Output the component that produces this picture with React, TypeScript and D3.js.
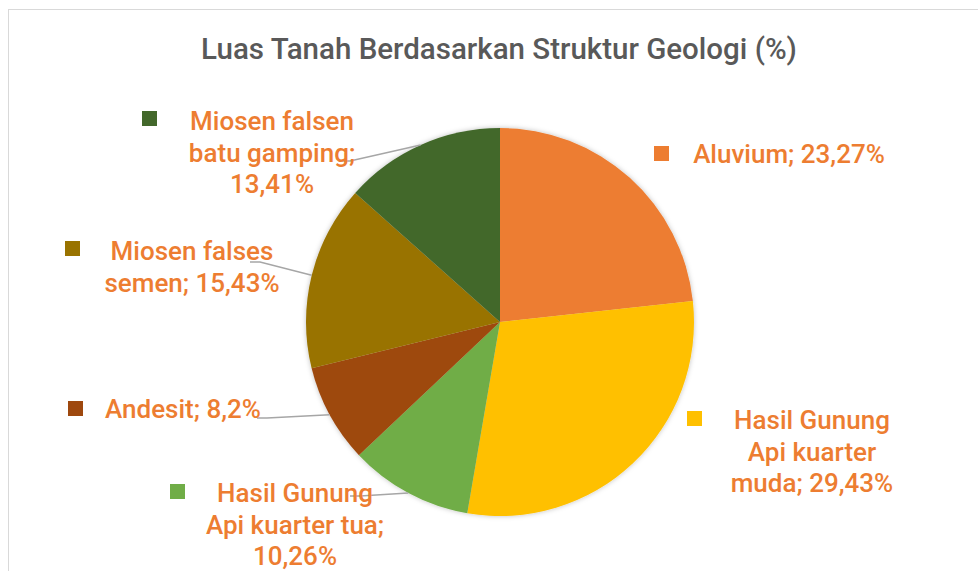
import React, { useEffect, useRef } from 'react';
import { arc, pie, select } from 'd3';

const categories = [
  'Aluvium',
  'Hasil Gunung Api kuarter muda',
  'Hasil Gunung Api kuarter tua',
  'Andesit',
  'Miosen falses semen',
  'Miosen falsen batu gamping',
];
const values = [23.27, 29.43, 10.26, 8.2, 15.43, 13.41];
const valueLabels = ['23,27%', '29,43%', '10,26%', '8,2%', '15,43%', '13,41%'];
// label text as wrapped in the original
const labelLines = [
  ['Aluvium; 23,27%'],
  ['Hasil Gunung', 'Api kuarter', 'muda; 29,43%'],
  ['Hasil Gunung', 'Api kuarter tua;', '10,26%'],
  ['Andesit; 8,2%'],
  ['Miosen falses', 'semen; 15,43%'],
  ['Miosen falsen', 'batu gamping;', '13,41%'],
];
const colors = ['#ED7D31', '#FFC000', '#70AD47', '#9E480E', '#997300', '#43682B'];

const W = 978;
const H = 571;
const cx = 500;
const cy = 322;
const radius = 194;

// label layout: centre x of text, first baseline, legend key pos, leader start (or null)
const labelLayout = [
  { tx: 789, ty: 163, kx: 654, ky: 146, lx: null, ly: null },
  { tx: 812, ty: 429, kx: 687, ky: 411, lx: null, ly: null },
  { tx: 295, ty: 502, kx: 170, ky: 484, lx: 350, ly: 496 },
  { tx: 183, ty: 418, kx: 68, ky: 401, lx: 257, ly: 418 },
  { tx: 192, ty: 260, kx: 65, ky: 241, lx: 250, ly: 262 },
  { tx: 272, ty: 130, kx: 142, ky: 111, lx: 340, ly: 161 },
];

export default function App() {
  const svgRef = useRef<SVGSVGElement>(null);

  useEffect(() => {
    const svg = select(svgRef.current);
    svg.selectAll('*').remove();

    const defs = svg.append('defs');
    const f = defs.append('filter').attr('id', 'shadow').attr('x', '-10%').attr('y', '-10%').attr('width', '120%').attr('height', '120%');
    f.append('feDropShadow').attr('dx', 0).attr('dy', 0).attr('stdDeviation', 2.5).attr('flood-color', '#000').attr('flood-opacity', 0.25);

    // chart frame
    svg.append('rect')
      .attr('x', 8.5).attr('y', 9.5)
      .attr('width', W + 20).attr('height', H + 20)
      .attr('fill', '#fff')
      .attr('stroke', '#d9d9d9');

    svg.append('text')
      .attr('x', 499).attr('y', 59)
      .attr('text-anchor', 'middle')
      .attr('font-family', 'Roboto, sans-serif')
      .attr('font-weight', 500)
      .attr('font-size', 29.5)
      .attr('fill', '#595959')
      .text('Luas Tanah Berdasarkan Struktur Geologi (%)');

    const pieGen = pie<number>().sort(null).value((d) => d);
    const arcs = pieGen(values);
    const arcGen = arc<any>().innerRadius(0).outerRadius(radius);
    const edgeArc = arc<any>().innerRadius(radius).outerRadius(radius);

    const chart = svg.append('g').attr('transform', `translate(${cx},${cy})`);

    chart.append('g')
      .attr('filter', 'url(#shadow)')
      .selectAll('path')
      .data(arcs)
      .join('path')
      .attr('d', arcGen)
      .attr('fill', (d, i) => colors[i]);

    // leader lines
    arcs.forEach((d, i) => {
      const L = labelLayout[i];
      if (L.lx == null) return;
      const [ex, ey] = edgeArc.centroid(d);
      svg.append('polyline')
        .attr('points', `${L.lx},${L.ly} ${L.lx + 10},${L.ly} ${cx + ex},${cy + ey}`)
        .attr('fill', 'none')
        .attr('stroke', '#a6a6a6')
        .attr('stroke-width', 1.5);
    });

    // labels
    const lg = svg.append('g')
      .attr('font-family', 'Roboto, sans-serif')
      .attr('font-weight', 500)
      .attr('font-size', 26)
      .attr('fill', '#ED7D31');

    labelLines.forEach((lines, i) => {
      const L = labelLayout[i];
      lg.append('rect')
        .attr('x', L.kx).attr('y', L.ky)
        .attr('width', 15).attr('height', 15)
        .attr('fill', colors[i]);
      const t = lg.append('text').attr('text-anchor', 'middle');
      lines.forEach((s, j) => {
        t.append('tspan').attr('x', L.tx).attr('y', L.ty + j * 31.5).text(s);
      });
    });
  }, []);

  return (
    <svg
      ref={svgRef}
      width={W}
      height={H}
      style={{ position: 'absolute', left: 0, top: 0 }}
      aria-label={categories.map((c, i) => `${c}: ${valueLabels[i]}`).join(', ')}
    />
  );
}
